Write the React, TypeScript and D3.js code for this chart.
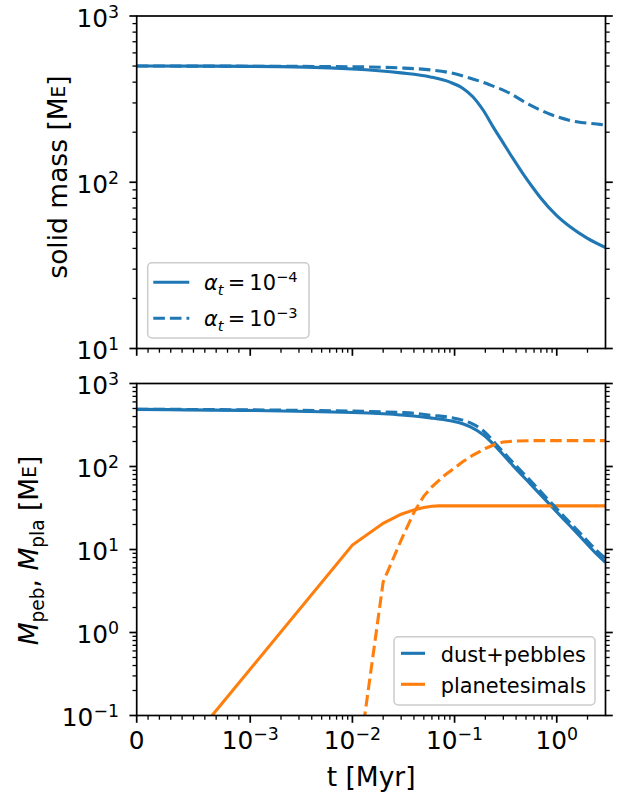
import React from "react";
import * as d3 from "d3";

// ---------------- data ----------------
// time axis [Myr]
const T_MAX = 3;
const LIN_THRESH = 1e-3;

// upper panel: total solid mass [M_E]
const tSolidA4 = [0, 0.001, 0.01, 0.03, 0.058, 0.09, 0.12, 0.15, 0.19, 0.24, 0.3, 0.37, 0.47, 0.59, 0.69, 1.0, 1.35, 2.0, 3.0];
const mSolidA4 = [500, 498, 480, 455, 430, 400, 368, 328, 272, 214, 172, 140, 112, 92, 81, 63, 54, 46, 40.5];
const tSolidA3 = [0, 0.001, 0.01, 0.03, 0.058, 0.09, 0.14, 0.22, 0.35, 0.51, 0.69, 1.0, 1.57, 2.46, 3.0];
const mSolidA3 = [500, 499, 495, 487, 474, 456, 424, 386, 342, 298, 272, 248, 231, 224, 221];

// lower panel: dust+pebbles and planetesimals [M_E]
const tPeb = [0, 0.01, 0.02, 0.03, 0.04, 0.058, 0.091, 0.12, 0.143, 0.192, 0.26, 0.377, 0.549, 0.8, 1.16, 1.69, 2.46, 3.0];
const mPebA4 = [488, 448, 432, 418, 405, 385, 355, 328, 300, 240, 168, 101, 62, 38, 23.4, 14.4, 8.8, 7.0];
const mPebA3 = [490, 465, 455, 447, 438, 415, 390, 362, 335, 268, 180, 110, 68, 41.5, 25.5, 15.8, 9.7, 7.8];
const tPlaA4 = [0, 0.01, 0.02, 0.03, 0.04, 0.05, 0.06, 0.07, 0.08, 0.1, 0.2, 0.5, 1.0, 3.0];
const mPlaA4 = [0.0079, 11.3, 20.7, 26.6, 30, 32, 33.2, 33.5, 33.5, 33.5, 33.5, 33.5, 33.5, 33.5];
const tPlaA3 = [0.01, 0.02, 0.03, 0.04, 0.05, 0.06, 0.07, 0.08, 0.1, 0.12, 0.15, 0.2, 0.25, 0.3, 0.4, 0.6, 1.0, 3.0];
const mPlaA3 = [0.0083, 4.06, 13, 28, 44, 57, 67.6, 78.3, 96, 114, 136, 165, 185, 197, 203, 205, 205, 205];

// ticks
const xMajorVals = [0, 1e-3, 1e-2, 1e-1, 1];
const xMajorExps = [null, "−3", "−2", "−1", "0"];
const yTopVals = [10, 100, 1000];
const yTopExps = ["1", "2", "3"];
const yBotVals = [0.1, 1, 10, 100, 1000];
const yBotExps = ["−1", "0", "1", "2", "3"];

const legendTop = ["−4", "−3"];
const legendBot = ["dust+pebbles", "planetesimals"];

// ---------------- style ----------------
const BLUE = "#1f77b4";
const ORANGE = "#ff7f0e";
const FONT = "DejaVu Sans";
const FS_TICK = 24.8;
const FS_LABEL = 26.5;
const FS_LEG = 20.9;
const LW = 3.1;
const DASH = "11.6,5";

const X0 = 136.7, X1 = 605.5;
const TOP_T = 16, TOP_B = 348.5;
const BOT_T = 383.5, BOT_B = 715.5;
const MAJ = 7.3, MIN = 4.2;

// matplotlib-like symlog transform (linthresh 1e-3, linscale 1)
const ADJ = 1 / (1 - 1 / 10);
const symT = (x: number) => (x < LIN_THRESH ? (x / LIN_THRESH) * ADJ : ADJ + Math.log10(x / LIN_THRESH));

function Pow({ exp, fs }: { exp: string; fs: number }) {
  return (
    <>
      <tspan>10</tspan>
      <tspan fontSize={fs * 0.7} dy={-fs * 0.36}>{exp}</tspan>
    </>
  );
}

function minorY(lo: number, hi: number) {
  const out: number[] = [];
  for (let d = Math.round(Math.log10(lo)); d < Math.round(Math.log10(hi)); d++) {
    for (let m = 2; m <= 9; m++) out.push(m * Math.pow(10, d));
  }
  return out;
}

export default function App() {
  const xScale = d3.scaleLinear().domain([symT(0), symT(T_MAX)]).range([X0, X1]);
  const X = (t: number) => xScale(symT(t));
  const yTop = d3.scaleLog().domain([10, 1000]).range([TOP_B, TOP_T]);
  const yBot = d3.scaleLog().domain([0.1, 1000]).range([BOT_B, BOT_T]);

  const xMinor: number[] = [];
  for (let i = 1; i <= 9; i++) xMinor.push(i * 1e-4);
  for (let d = -3; d <= 0; d++) for (let m = 2; m <= 9; m++) { const v = m * Math.pow(10, d); if (v < T_MAX - 1e-9) xMinor.push(v); }

  const mkLine = (y: d3.ScaleLogarithmic<number, number>, curve: d3.CurveFactory) =>
    d3.line<[number, number]>().x((d) => X(d[0])).y((d) => y(d[1])).curve(curve);
  const zip = (a: number[], b: number[]) => a.map((t, i) => [t, b[i]] as [number, number]);

  const lineTopSmooth = mkLine(yTop, d3.curveMonotoneX);
  const lineBotSmooth = mkLine(yBot, d3.curveMonotoneX);
  const lineBotLin = mkLine(yBot, d3.curveLinear);

  const xAxisTicks = (yb: number) => (
    <g stroke="black">
      {xMajorVals.map((v, i) => <line key={"M" + i} x1={X(v)} x2={X(v)} y1={yb} y2={yb + MAJ} strokeWidth={1.7} />)}
      {xMinor.map((v, i) => <line key={"m" + i} x1={X(v)} x2={X(v)} y1={yb} y2={yb + MIN} strokeWidth={1.3} />)}
    </g>
  );
  const yAxisTicks = (y: d3.ScaleLogarithmic<number, number>, vals: number[], lo: number, hi: number) => (
    <g stroke="black">
      {vals.map((v, i) => (
        <g key={"M" + i}>
          <line x1={X0 - MAJ} x2={X0} y1={y(v)} y2={y(v)} strokeWidth={1.7} />
          <line x1={X1} x2={X1 + MAJ} y1={y(v)} y2={y(v)} strokeWidth={1.7} />
        </g>
      ))}
      {minorY(lo, hi).map((v, i) => (
        <g key={"m" + i}>
          <line x1={X0 - MIN} x2={X0} y1={y(v)} y2={y(v)} strokeWidth={1.3} />
          <line x1={X1} x2={X1 + MIN} y1={y(v)} y2={y(v)} strokeWidth={1.3} />
        </g>
      ))}
    </g>
  );
  const yTickLabels = (y: d3.ScaleLogarithmic<number, number>, vals: number[], exps: string[]) =>
    vals.map((v, i) => (
      <text key={i} x={119} y={y(v) + 10.7} textAnchor="end" fontSize={FS_TICK}>
        <Pow exp={exps[i]} fs={FS_TICK} />
      </text>
    ));

  return (
    <svg width={628} height={798} style={{ position: "absolute", left: 0, top: 0, background: "white" }} fontFamily={FONT}>
      <defs>
        <clipPath id="clipTop"><rect x={X0} y={TOP_T} width={X1 - X0} height={TOP_B - TOP_T} /></clipPath>
        <clipPath id="clipBot"><rect x={X0} y={BOT_T} width={X1 - X0} height={BOT_B - BOT_T} /></clipPath>
      </defs>
      <rect x={0} y={0} width={628} height={798} fill="white" />

      {/* ---------- upper panel ---------- */}
      <g clipPath="url(#clipTop)" fill="none" strokeWidth={LW}>
        <path d={lineTopSmooth(zip(tSolidA4, mSolidA4)) || ""} stroke={BLUE} />
        <path d={lineTopSmooth(zip(tSolidA3, mSolidA3)) || ""} stroke={BLUE} strokeDasharray={DASH} />
      </g>
      {xAxisTicks(TOP_B)}
      {yAxisTicks(yTop, yTopVals, 10, 1000)}
      <rect x={X0} y={TOP_T} width={X1 - X0} height={TOP_B - TOP_T} fill="none" stroke="black" strokeWidth={1.7} />
      {yTickLabels(yTop, yTopVals, yTopExps)}
      <text transform={`translate(66.5,177) rotate(-90)`} textAnchor="middle" fontSize={FS_LABEL}>
        <tspan>solid mass [M</tspan>
        <tspan fontSize={FS_LABEL * 0.7} dy={-2}>E</tspan>
        <tspan dy={2}>]</tspan>
      </text>

      {/* legend upper */}
      <rect x={147.7} y={262.7} width={161.3} height={75.3} rx={4.2} fill="white" fillOpacity={0.8} stroke="#cccccc" strokeWidth={1.5} />
      {legendTop.map((e, i) => {
        const ly = 282.3 + i * 36;
        return (
          <g key={i}>
            <line x1={153.3} x2={189.3} y1={ly} y2={ly} stroke={BLUE} strokeWidth={LW} strokeDasharray={i === 1 ? DASH : undefined} />
            <text x={204} y={ly + 7.7} fontSize={FS_LEG}>
              <tspan fontStyle="italic">α</tspan>
              <tspan fontStyle="italic" fontSize={FS_LEG * 0.7} dy={4.5}>t</tspan>
              <tspan dy={-4.5}>{"\u2009=\u200910"}</tspan>
              <tspan fontSize={FS_LEG * 0.7} dy={-FS_LEG * 0.36}>{e}</tspan>
            </text>
          </g>
        );
      })}

      {/* ---------- lower panel ---------- */}
      <g clipPath="url(#clipBot)" fill="none" strokeWidth={LW}>
        <path d={lineBotSmooth(zip(tPeb, mPebA4)) || ""} stroke={BLUE} />
        <path d={lineBotLin(zip(tPlaA4, mPlaA4)) || ""} stroke={ORANGE} />
        <path d={lineBotSmooth(zip(tPeb, mPebA3)) || ""} stroke={BLUE} strokeDasharray={DASH} />
        <path d={lineBotLin(zip(tPlaA3, mPlaA3)) || ""} stroke={ORANGE} strokeDasharray={DASH} />
      </g>
      {xAxisTicks(BOT_B)}
      {yAxisTicks(yBot, yBotVals, 0.1, 1000)}
      <rect x={X0} y={BOT_T} width={X1 - X0} height={BOT_B - BOT_T} fill="none" stroke="black" strokeWidth={1.7} />
      {yTickLabels(yBot, yBotVals, yBotExps)}
      {xMajorVals.map((v, i) => (
        <text key={i} x={X(v)} y={749} textAnchor="middle" fontSize={FS_TICK}>
          {xMajorExps[i] === null ? "0" : <Pow exp={xMajorExps[i] as string} fs={FS_TICK} />}
        </text>
      ))}
      <text x={(X0 + X1) / 2} y={786} textAnchor="middle" fontSize={FS_LABEL}>t [Myr]</text>
      <text transform={`translate(38,550.5) rotate(-90)`} textAnchor="middle" fontSize={FS_LABEL}>
        <tspan fontStyle="italic">M</tspan>
        <tspan fontSize={FS_LABEL * 0.7} dy={5.5}>peb</tspan>
        <tspan dy={-5.5}>{", "}</tspan>
        <tspan fontStyle="italic">M</tspan>
        <tspan fontSize={FS_LABEL * 0.7} dy={5.5}>pla</tspan>
        <tspan dy={-5.5}>{" [M"}</tspan>
        <tspan fontSize={FS_LABEL * 0.7} dy={-2}>E</tspan>
        <tspan dy={2}>]</tspan>
      </text>

      {/* legend lower */}
      <rect x={394} y={636.7} width={201} height={68.3} rx={4.2} fill="white" fillOpacity={0.8} stroke="#cccccc" strokeWidth={1.5} />
      {legendBot.map((lab, i) => {
        const ly = 653.3 + i * 31;
        return (
          <g key={i}>
            <line x1={401} x2={425} y1={ly} y2={ly} stroke={i === 0 ? BLUE : ORANGE} strokeWidth={LW} />
            <text x={440.7} y={ly + 8.4} fontSize={FS_LEG}>{lab}</text>
          </g>
        );
      })}
    </svg>
  );
}
